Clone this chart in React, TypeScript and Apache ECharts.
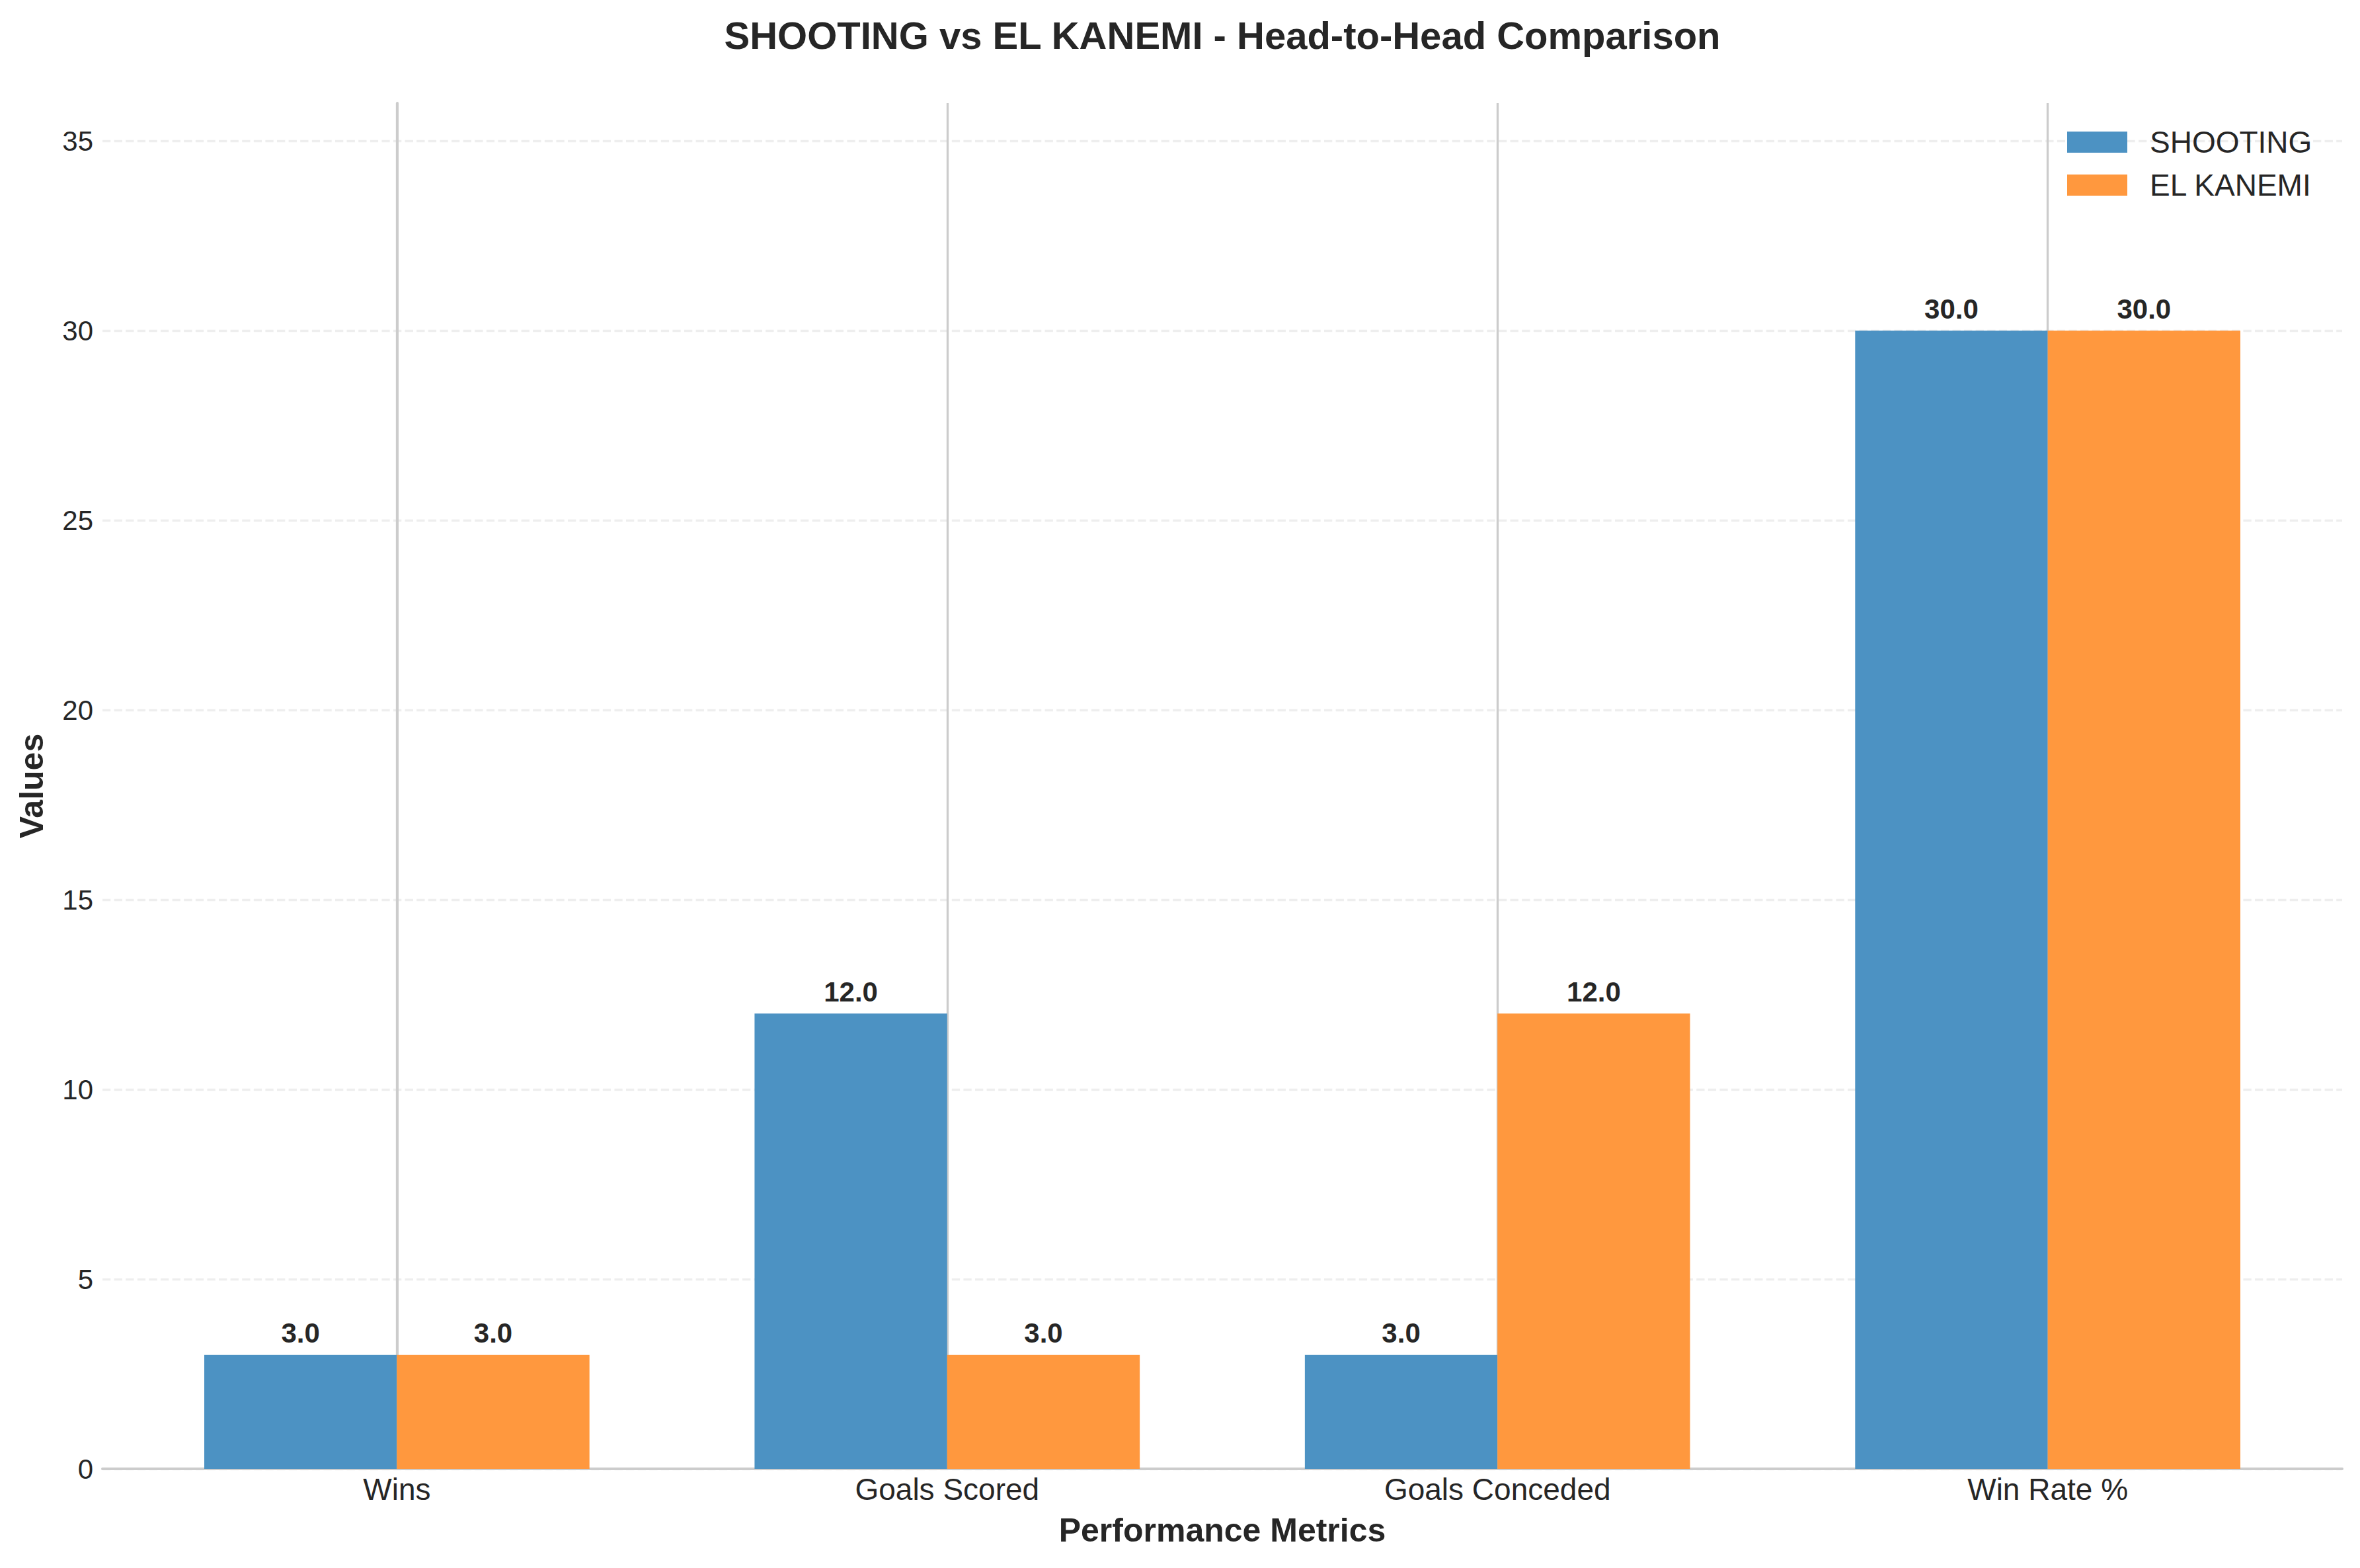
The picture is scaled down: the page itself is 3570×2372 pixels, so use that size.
import React, { useEffect, useRef } from "react";
import * as echarts from "echarts";

const categories = ["Wins", "Goals Scored", "Goals Conceded", "Win Rate %"];
const shootingValues = [3, 12, 3, 30];
const elKanemiValues = [3, 3, 12, 30];
const seriesNames = ["SHOOTING", "EL KANEMI"];
const yTicks = [0, 5, 10, 15, 20, 25, 30, 35];
const titleText = "SHOOTING vs EL KANEMI - Head-to-Head Comparison";
const xAxisTitle = "Performance Metrics";
const yAxisTitle = "Values";

const W = 3570;
const H = 2372;
const FONT = "'Liberation Sans', Arial, Helvetica, sans-serif";
const TEXT = "#262626";
const GRID = { left: 155, right: 27, top: 156, bottom: 150 };
const X_MIN = -0.535;
const X_MAX = 3.535;
const Y_MAX = 36;

export default function App() {
  const ref = useRef<HTMLDivElement>(null);

  useEffect(() => {
    if (!ref.current) return;
    const chart = echarts.init(ref.current, undefined, { renderer: "svg", width: W, height: H });
    const labelStyle = {
      show: true,
      position: "top" as const,
      distance: 12,
      fontFamily: FONT,
      fontWeight: "bold" as const,
      fontSize: 42,
      color: TEXT,
      formatter: (p: any) => Number(p.value[1]).toFixed(1),
    };
    const gridCenterX = GRID.left + (W - GRID.left - GRID.right) / 2;
    chart.setOption({
      animation: false,
      backgroundColor: "#ffffff",
      textStyle: { fontFamily: FONT, color: TEXT },
      title: {
        text: titleText,
        left: gridCenterX,
        top: 24,
        textAlign: "center",
        padding: 0,
        textStyle: { fontFamily: FONT, fontWeight: "bold", fontSize: 58, color: TEXT },
      },
      legend: {
        orient: "vertical",
        left: 3127,
        top: 192,
        padding: 0,
        itemWidth: 91,
        itemHeight: 32,
        itemGap: 19,
        icon: "rect",
        textStyle: { fontFamily: FONT, fontSize: 46, color: TEXT, padding: [0, 0, 0, 29] },
        data: seriesNames,
      },
      grid: { ...GRID, containLabel: false },
      xAxis: {
        type: "value",
        min: X_MIN,
        max: X_MAX,
        name: xAxisTitle,
        nameLocation: "middle",
        nameGap: 68,
        nameTextStyle: { fontFamily: FONT, fontWeight: "bold", fontSize: 50, color: TEXT },
        axisLine: { show: true, onZero: false, lineStyle: { color: "#cccccc", width: 4 } },
        axisTick: { show: false, customValues: categories.map((_, i) => i) },
        axisLabel: {
          customValues: categories.map((_, i) => i),
          formatter: (v: number) => categories[Math.round(v)] ?? "",
          fontFamily: FONT,
          fontSize: 46,
          color: TEXT,
          margin: 8,
        },
        splitLine: { show: true, lineStyle: { color: "#cccccc", width: 3.3 } },
      },
      yAxis: {
        type: "value",
        min: 0,
        max: Y_MAX,
        name: yAxisTitle,
        nameLocation: "middle",
        nameRotate: 90,
        nameGap: 82,
        nameTextStyle: { fontFamily: FONT, fontWeight: "bold", fontSize: 50, color: TEXT },
        axisLine: { show: true, lineStyle: { color: "#cccccc", width: 4 } },
        axisTick: { show: false, customValues: yTicks },
        axisLabel: { customValues: yTicks, fontFamily: FONT, fontSize: 42, color: TEXT, margin: 14 },
        splitLine: {
          show: true,
          lineStyle: { color: "#eeeeee", width: 3.3, type: [12.3, 5.3] },
        },
      },
      series: [
        {
          name: seriesNames[0],
          type: "bar",
          barWidth: "35%",
          barGap: "0%",
          itemStyle: { color: "#4C92C3" },
          label: labelStyle,
          data: shootingValues.map((v, i) => [i, v]),
        },
        {
          name: seriesNames[1],
          type: "bar",
          barWidth: "35%",
          barGap: "0%",
          itemStyle: { color: "#FF983E" },
          label: labelStyle,
          data: elKanemiValues.map((v, i) => [i, v]),
        },
      ],
    });
    return () => chart.dispose();
  }, []);

  return (
    <div
      ref={ref}
      style={{ position: "absolute", left: 0, top: 0, width: W, height: H, background: "#fff" }}
    />
  );
}
